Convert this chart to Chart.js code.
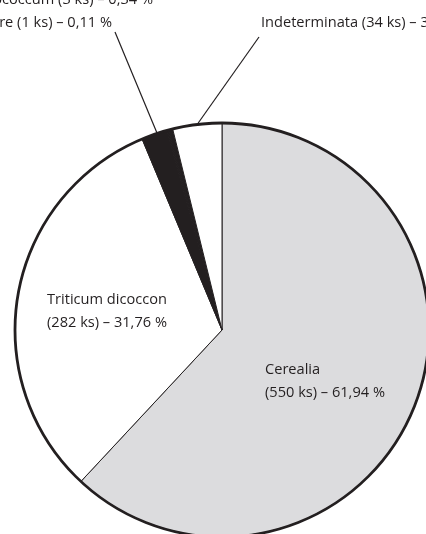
<!DOCTYPE html>
<html>
<head>
<meta charset="utf-8">
<script src="https://cdn.jsdelivr.net/npm/chart.js@4/dist/chart.umd.min.js"></script>
<style>
  html, body { margin: 0; padding: 0; background: #fff; overflow: hidden; }
  #wrap { position: absolute; left: 0; top: 0; width: 426px; height: 534px; overflow: hidden; }
  #myChart { position: absolute; left: 0; top: 0; }
</style>
</head>
<body>
<div id="wrap"><canvas id="myChart" width="440" height="560"></canvas></div>
<script>
// data, clockwise from 12 o'clock
var categories = ["Cerealia", "Triticum dicoccon", "Triticum sp.", "Hordeum vulgare", "Triticum monococcum", "Indeterminata"];
var counts = [550, 282, 18, 1, 3, 34];
var percents = ["61,94", "31,76", "2,03", "0,11", "0,34", "3,83"];
var fills = ["#dcdcde", "#ffffff", "#231f20", "#231f20", "#231f20", "#ffffff"];

var ink = "#231f20";
var font = "14.6px 'Open Sans'";

function labelText(i) {
    return categories[i] + " (" + counts[i] + " ks) \u2013 " + percents[i] + " %";
}

// point on the outer arc at the middle of slices [a..b]
function arcPoint(meta, a, b) {
    var start = meta.data[a].startAngle;
    var end = meta.data[b].endAngle;
    var ang = (start + end) / 2;
    var el = meta.data[a];
    return [el.x + el.outerRadius * Math.cos(ang), el.y + el.outerRadius * Math.sin(ang)];
}

var labelsPlugin = {
    id: "labelsPlugin",
    afterDatasetsDraw: function (chart) {
        var ctx = chart.ctx;
        var meta = chart.getDatasetMeta(0);
        var el = meta.data[0];

        // heavy outer rim
        ctx.save();
        ctx.beginPath();
        ctx.arc(el.x, el.y, el.outerRadius, 0, 2 * Math.PI);
        ctx.lineWidth = 2.8;
        ctx.strokeStyle = ink;
        ctx.stroke();

        ctx.font = font;
        ctx.fillStyle = ink;
        ctx.textBaseline = "alphabetic";

        // inner labels
        ctx.textAlign = "left";
        ctx.fillText(categories[1], 47, 304);
        ctx.fillText("(" + counts[1] + " ks) \u2013 " + percents[1] + " %", 47, 327);
        ctx.fillText(categories[0], 265, 374);
        ctx.fillText("(" + counts[0] + " ks) \u2013 " + percents[0] + " %", 265, 397);

        // outer labels (partly off the page)
        ctx.textAlign = "right";
        ctx.fillText(labelText(4), 153, 4);
        ctx.fillText(labelText(3), 112, 27);
        ctx.textAlign = "left";
        ctx.fillText(labelText(5), 261, 27);

        // leader lines
        ctx.lineWidth = 1.2;
        var p = arcPoint(meta, 2, 4);
        ctx.beginPath();
        ctx.moveTo(115, 32);
        ctx.lineTo(p[0], p[1]);
        ctx.stroke();
        p = arcPoint(meta, 5, 5);
        ctx.beginPath();
        ctx.moveTo(259, 37);
        ctx.lineTo(p[0], p[1]);
        ctx.stroke();
        ctx.restore();
    }
};

var chart = new Chart(document.getElementById("myChart").getContext("2d"), {
    type: "pie",
    data: {
        labels: categories,
        datasets: [{
            data: counts,
            backgroundColor: fills,
            borderColor: ink,
            borderWidth: 1
        }]
    },
    options: {
        responsive: false,
        animation: false,
        devicePixelRatio: 1,
        layout: { padding: { left: 14.5, top: 122.5, right: 10.5, bottom: 22.5 } },
        plugins: {
            legend: { display: false },
            tooltip: { enabled: false },
            title: { display: false }
        }
    },
    plugins: [labelsPlugin]
});
</script>
</body>
</html>
